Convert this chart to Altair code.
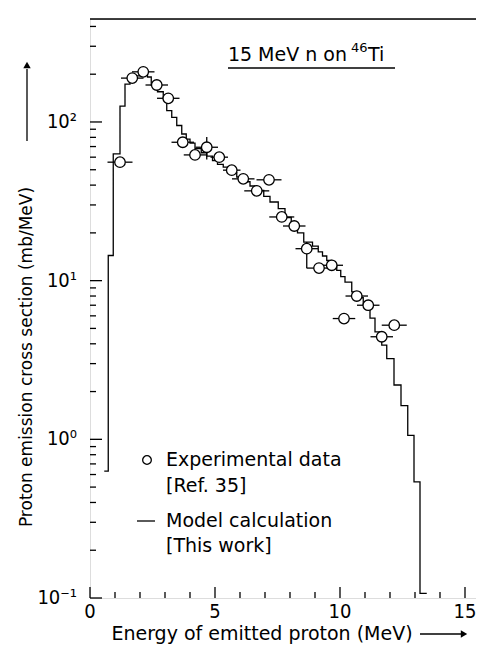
import altair as alt
import pandas as pd

# ---------------- data ----------------
# Experimental data [Ref. 35]
exp_energy = [1.2, 1.69, 2.13, 2.67, 3.13, 3.71, 4.2, 4.67, 5.17, 5.67, 6.13, 6.67,
              7.16, 7.67, 8.17, 8.67, 9.16, 9.67, 10.16, 10.67, 11.13, 11.67, 12.17]
exp_sigma = [55.8, 189, 207, 171, 141, 74.5, 62, 69.3, 60, 49.7, 43.8, 36.8,
             43.2, 25.2, 22.1, 15.9, 12.0, 12.5, 5.77, 8.0, 7.0, 4.43, 5.24]
exp_dE = [0.5, 0.45, 0.45, 0.45, 0.45, 0.45, 0.45, 0.45, 0.35, 0.35, 0.45, 0.5,
          0.5, 0.5, 0.45, 0.45, 0.5, 0.45, 0.45, 0.45, 0.45, 0.45, 0.5]
# vertical error bars (only where visible)
verr_energy = [4.67, 8.67]
verr_low = [58.0, 12.0]
verr_high = [80.5, 17.5]

# Model calculation [This work] : histogram bin edges and bin values
model_edges = [0.57, 0.73, 0.93, 1.2, 1.4, 1.6, 1.85, 2.1, 2.3, 2.45,
               2.7, 2.93, 3.07, 3.27, 3.47, 3.67, 3.85, 4.0, 4.2, 4.45,
               4.67, 4.9, 5.1, 5.33, 5.6, 5.87, 6.1, 6.4, 6.67, 6.95,
               7.2, 7.53, 7.8, 8.05, 8.3, 8.55, 8.9, 9.13, 9.3, 9.47,
               9.67, 9.87, 10.03, 10.2, 10.47, 10.7, 10.93, 11.2, 11.4, 11.67,
               11.87, 12.16, 12.44, 12.71, 12.96, 13.2, 13.47]
model_values = [0.63, 14.4, 63, 126, 173, 185, 195, 198, 192, 170,
                155, 140, 118, 107, 95, 84, 78, 73.5, 68, 64,
                61, 57, 54, 52, 48, 45, 42, 39.5, 37, 34,
                31.3, 28.4, 25, 22, 20, 17.5, 16.5, 15.2, 14.3, 13.4,
                12.4, 11.6, 10.6, 9.8, 8.5, 7.8, 7.1, 5.8, 4.76, 3.92,
                3.23, 2.2, 1.63, 1.06, 0.54, 0.107]

# axis ticks and tick labels
x_major = [0, 5, 10, 15]
x_labels = ["0", "5", "10", "15"]
x_minor = [1, 2, 3, 4, 6, 7, 8, 9, 11, 12, 13, 14]
y_major = [0.1, 1, 10, 100]
y_labels = ["10\u207b\u00b9", "10\u2070", "10\u00b9", "10\u00b2"]
y_minor = [0.2, 0.3, 0.4, 0.5, 0.6, 0.7, 0.8, 0.9,
           2, 3, 4, 5, 6, 7, 8, 9,
           20, 30, 40, 50, 60, 70, 80, 90,
           200, 300, 400]

# ---------------- chart ----------------
W, H = 386, 579
FONT = "DejaVu Sans"
TFONT = "DejaVu Sans Condensed"
LW = 1.3

xs = alt.Scale(domain=[0, 15.44], nice=False, zero=False)
ys = alt.Scale(type="log", domain=[0.1, 445.6], nice=False)

step_E = model_edges[:]
step_S = model_values + [model_values[-1]]
model_df = pd.DataFrame({"E": step_E, "S": step_S})

exp_df = pd.DataFrame({
    "E": exp_energy,
    "S": exp_sigma,
    "lo": [e - d for e, d in zip(exp_energy, exp_dE)],
    "hi": [e + d for e, d in zip(exp_energy, exp_dE)],
})
verr_df = pd.DataFrame({"E": verr_energy, "lo": verr_low, "hi": verr_high})

model_line = alt.Chart(model_df).mark_line(
    interpolate="step-after", color="black", strokeWidth=LW
).encode(
    x=alt.X("E:Q", scale=xs, axis=alt.Axis(
        values=x_major, ticks=False, grid=False, labels=False, title=None,
        domainColor="black", domainWidth=1.5)),
    y=alt.Y("S:Q", scale=ys, axis=alt.Axis(
        values=y_major, ticks=False, grid=False, labels=False, title=None,
        domainColor="black", domainWidth=1.5)),
)

hbars = alt.Chart(exp_df).mark_rule(color="black", strokeWidth=LW).encode(
    x=alt.X("lo:Q", scale=xs, axis=None), x2="hi:Q",
    y=alt.Y("S:Q", scale=ys, axis=None),
)
vbars = alt.Chart(verr_df).mark_rule(color="black", strokeWidth=LW).encode(
    x=alt.X("E:Q", scale=xs, axis=None),
    y=alt.Y("lo:Q", scale=ys, axis=None), y2="hi:Q",
)
points = alt.Chart(exp_df).mark_point(
    shape="circle", filled=True, fill="white", stroke="black", strokeWidth=LW,
    size=110, opacity=1
).encode(
    x=alt.X("E:Q", scale=xs, axis=None),
    y=alt.Y("S:Q", scale=ys, axis=None),
)

# inward ticks
def yticks(vals, length):
    return alt.Chart(pd.DataFrame({"v": vals})).mark_rule(color="black", strokeWidth=LW).encode(
        y=alt.Y("v:Q", scale=ys, axis=None), x=alt.value(0), x2=alt.value(length))

def xticks(vals, length):
    return alt.Chart(pd.DataFrame({"v": vals})).mark_rule(color="black", strokeWidth=LW).encode(
        x=alt.X("v:Q", scale=xs, axis=None), y=alt.value(H), y2=alt.value(H - length))

# tick labels placed through the scales
xlab = alt.Chart(pd.DataFrame({"v": x_major, "t": x_labels})).mark_text(
    font=TFONT, fontSize=20, align="center", baseline="middle", color="black"
).encode(x=alt.X("v:Q", scale=xs, axis=None), y=alt.value(H + 14), text="t:N")
ylab = alt.Chart(pd.DataFrame({"v": y_major, "t": y_labels})).mark_text(
    font=TFONT, fontSize=20, align="right", baseline="middle", color="black"
).encode(y=alt.Y("v:Q", scale=ys, axis=None), x=alt.value(-13), text="t:N")

top_border = alt.Chart(pd.DataFrame({"a": [0]})).mark_rule(color="black", strokeWidth=1.5).encode(
    x=alt.value(0), x2=alt.value(W), y=alt.value(0))

def label(text, x, y, size=19, align="left", angle=0, font=FONT):
    return alt.Chart(pd.DataFrame({"t": [text]})).mark_text(
        font=font, fontSize=size, align=align, baseline="middle", color="black", angle=angle
    ).encode(text="t:N", x=alt.value(x), y=alt.value(y))

def hrule(x1, x2, y, w=LW):
    return alt.Chart(pd.DataFrame({"a": [0]})).mark_rule(color="black", strokeWidth=w).encode(
        x=alt.value(x1), x2=alt.value(x2), y=alt.value(y))

def vrule(x, y1, y2, w=LW):
    return alt.Chart(pd.DataFrame({"a": [0]})).mark_rule(color="black", strokeWidth=w).encode(
        x=alt.value(x), y=alt.value(y1), y2=alt.value(y2))

def arrowhead(shape, x, y, size=55):
    return alt.Chart(pd.DataFrame({"a": [0]})).mark_point(
        shape=shape, filled=True, color="black", size=size, opacity=1
    ).encode(x=alt.value(x), y=alt.value(y))

legend_circle = alt.Chart(pd.DataFrame({"a": [0]})).mark_point(
    shape="circle", filled=True, fill="white", stroke="black", strokeWidth=LW, size=75, opacity=1
).encode(x=alt.value(57), y=alt.value(441))

layers = [
    model_line, hbars, vbars, points,
    yticks(y_major, 12), yticks(y_minor, 6), xticks(x_major, 11), xticks(x_minor, 6),
    xlab, ylab,
    top_border,
    # title text: "15 MeV n on" + superscript 46 + "Ti"
    label("15 MeV n on", 257, 36, size=19, align="right"),
    label("46", 261, 29, size=13, align="left"),
    label("Ti", 278, 36, size=19, align="left"),
    hrule(138, 305, 49),
    # legend
    legend_circle,
    label("Experimental data", 76, 441),
    label("[Ref. 35]", 76, 467),
    hrule(47, 65, 502),
    label("Model calculation", 76, 502),
    label("[This work]", 76, 527),
    # axis titles with arrows
    label("Energy of emitted proton (MeV)", 172, 615, size=19, align="center"),
    hrule(330, 372, 615),
    arrowhead("triangle-right", 374, 615),
    label("Proton emission cross section (mb/MeV)", -63, 338, size=17, align="center", angle=270),
    vrule(-63, 122, 50),
    arrowhead("triangle-up", -63, 46),
]

chart = alt.layer(*layers).properties(
    width=W, height=H,
    padding={"left": 82, "top": 11, "right": 0, "bottom": 52},
    autosize=alt.AutoSizeParams(type="none"),
).configure_view(stroke=None).configure(background="white")

chart.save("out.html", embed_options={"renderer": "svg", "actions": False})
